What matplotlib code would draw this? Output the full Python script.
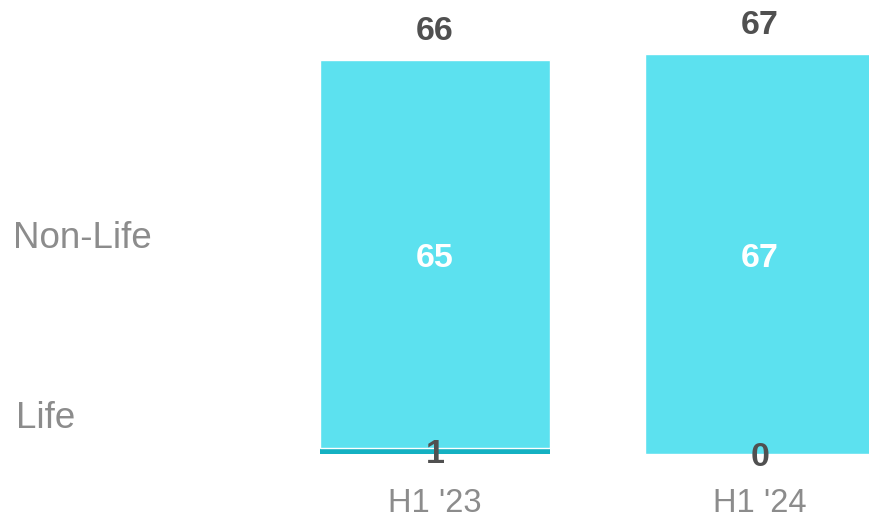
import matplotlib
matplotlib.use("Agg")
import matplotlib.pyplot as plt

categories = ["H1 '23", "H1 '24"]
life = [1, 0]
non_life = [65, 67]
totals = [66, 67]
series_names = ["Non-Life", "Life"]

plt.rcParams['font.family'] = ['Liberation Sans', 'DejaVu Sans']

fig = plt.figure(figsize=(8.69, 5.21), dpi=100)
ax = fig.add_axes([0, 0, 1, 1])
x = list(range(len(categories)))
w = 0.708
ax.bar(x, life, width=w, color="#14B1C2", linewidth=0)
ax.bar(x, non_life, width=w, bottom=life, color="#5CE1EF", edgecolor="white", linewidth=1.0)

for i in x:
    ax.text(i, totals[i] + 4.8, str(totals[i]), ha="center", va="center",
            fontsize=24.5, fontweight="bold", color="#505050")
    ax.text(i, life[i] + non_life[i] / 2 - 0.8, str(non_life[i]), ha="center", va="center",
            fontsize=24.5, fontweight="bold", color="white")
    ax.text(i, life[i] / 2 - 0.5, str(life[i]), ha="center", va="center",
            fontsize=24.5, fontweight="bold", color="#505050")
    ax.text(i, -8.2, categories[i], ha="center", va="center",
            fontsize=23.5, color="#8c8c8c")

ax.text(0.015, 36.0, series_names[0], transform=ax.get_yaxis_transform(),
        ha="left", va="center", fontsize=26.5, color="#8c8c8c")
ax.text(0.018, 6.0, series_names[1], transform=ax.get_yaxis_transform(),
        ha="left", va="center", fontsize=26.5, color="#8c8c8c")

ax.set_xlim(-1.338, 1.335)
ax.set_ylim(-11.2, 76.0)
ax.axis("off")
fig.savefig("out.png", dpi=100)
